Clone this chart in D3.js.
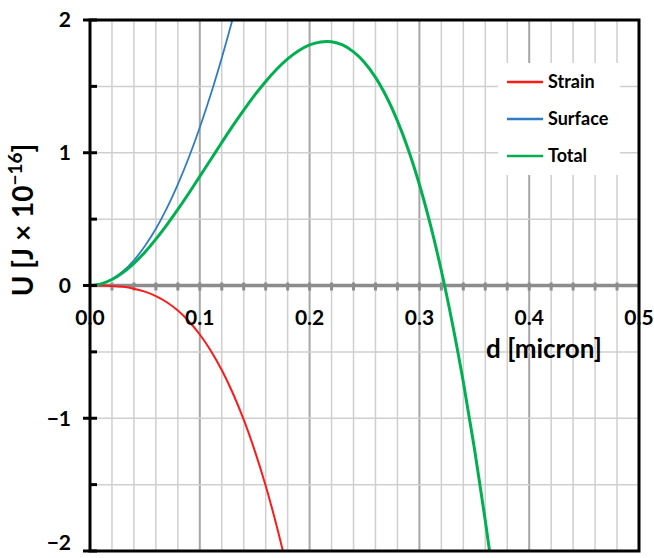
<!DOCTYPE html>
<html>
<head>
<meta charset="utf-8">
<script src="https://cdn.jsdelivr.net/npm/d3@7"></script>
<style>
  body { margin: 0; background: #fff; }
  svg { display: block; font-family: Lato, "Open Sans", sans-serif; font-weight: bold; }
</style>
</head>
<body>
<svg id="chart"></svg>
<script>
// Energy vs. thickness
const dValues = [0, 0.01, 0.02, 0.03, 0.04, 0.05, 0.06, 0.07, 0.08, 0.09,
  0.10, 0.11, 0.12, 0.13, 0.14, 0.15, 0.16, 0.17, 0.18, 0.19,
  0.20, 0.21, 0.22, 0.23, 0.24, 0.25, 0.26, 0.27, 0.28, 0.29,
  0.30, 0.31, 0.32, 0.33, 0.34, 0.35, 0.36, 0.37];

const strainU = [0, -0.0004, -0.003, -0.010, -0.024, -0.046, -0.080, -0.126, -0.189, -0.269,
  -0.369, -0.491, -0.637, -0.810, -1.011, -1.244, -1.509, -1.811, -2.149];

const surfaceU = [0, 0.012, 0.048, 0.107, 0.190, 0.298, 0.428, 0.583, 0.762, 0.964,
  1.190, 1.440, 1.714, 2.011, 2.332];

const totalU = [0, 0.012, 0.045, 0.097, 0.167, 0.251, 0.349, 0.457, 0.573, 0.695,
  0.822, 0.949, 1.077, 1.202, 1.321, 1.434, 1.537, 1.629, 1.707, 1.768,
  1.812, 1.835, 1.836, 1.812, 1.760, 1.680, 1.568, 1.422, 1.240, 1.021,
  0.761, 0.458, 0.111, -0.284, -0.727, -1.222, -1.770, -2.375];

const seriesNames = ['Strain', 'Surface', 'Total'];
const seriesColors = ['#ff1a1a', '#2e7dc4', '#00b050'];
const seriesWidths = [2, 1.8, 3];
const seriesValues = [strainU, surfaceU, totalU];

const xTickLabels = ['0.0', '0.1', '0.2', '0.3', '0.4', '0.5'];
const yTickLabels = ['\u22122', '\u22121', '0', '1', '2'];

const W = 654, H = 558;
const plot = { left: 90, right: 639, top: 20, bottom: 551 };

const svg = d3.select('#chart').attr('width', W).attr('height', H);

const x = d3.scaleLinear().domain([0, 0.5]).range([plot.left, plot.right]);
const y = d3.scaleLinear().domain([-2, 2]).range([plot.bottom, plot.top]);

// Gridlines
const xMinor = d3.range(1, 25).map(i => i * 0.02);
const yGrid = [-1.5, -1, -0.5, 0.5, 1, 1.5];
const isMajorX = d => Math.abs(d * 10 - Math.round(d * 10)) < 1e-6;

const grid = svg.append('g').attr('class', 'grid');
grid.selectAll('.vgrid')
  .data(xMinor)
  .join('line')
  .attr('x1', d => x(d)).attr('x2', d => x(d))
  .attr('y1', plot.top).attr('y2', plot.bottom)
  .attr('stroke', d => isMajorX(d) ? '#a6a6a6' : '#cfcfcf')
  .attr('stroke-width', d => isMajorX(d) ? 2 : 1.5);

grid.selectAll('.hgrid')
  .data(yGrid)
  .join('line')
  .attr('x1', plot.left).attr('x2', plot.right)
  .attr('y1', d => y(d)).attr('y2', d => y(d))
  .attr('stroke', '#cfcfcf')
  .attr('stroke-width', 1.5);

// Legend background blanks out the grid behind it
svg.append('rect')
  .attr('x', 498).attr('y', 63)
  .attr('width', 122).attr('height', 112)
  .attr('fill', '#fff');

// Zero line with ticks
const zeroY = y(0);
svg.append('line')
  .attr('x1', plot.left).attr('x2', plot.right)
  .attr('y1', zeroY).attr('y2', zeroY)
  .attr('stroke', '#8c8c8c')
  .attr('stroke-width', 3.5);

svg.append('g').selectAll('line')
  .data(xMinor)
  .join('line')
  .attr('x1', d => x(d)).attr('x2', d => x(d))
  .attr('y1', zeroY - 3).attr('y2', zeroY + 5)
  .attr('stroke', '#8c8c8c')
  .attr('stroke-width', 3);

// Curves
svg.append('clipPath').attr('id', 'plot-clip')
  .append('rect')
  .attr('x', plot.left).attr('y', plot.top)
  .attr('width', plot.right - plot.left)
  .attr('height', plot.bottom - plot.top);

const line = d3.line()
  .x((d, i) => x(dValues[i]))
  .y(d => y(d))
  .curve(d3.curveCatmullRom.alpha(0.5));

svg.append('g')
  .attr('clip-path', 'url(#plot-clip)')
  .selectAll('path')
  .data(seriesValues)
  .join('path')
  .attr('d', d => line(d))
  .attr('fill', 'none')
  .attr('stroke', (d, i) => seriesColors[i])
  .attr('stroke-width', (d, i) => seriesWidths[i])
  .attr('stroke-linejoin', 'round');

// Frame
svg.append('rect')
  .attr('x', plot.left).attr('y', plot.top)
  .attr('width', plot.right - plot.left)
  .attr('height', plot.bottom - plot.top)
  .attr('fill', 'none')
  .attr('stroke', '#000')
  .attr('stroke-width', 3);

// Y axis ticks: majors cross the axis, minors sit inside
const yMajor = [-2, -1, 0, 1, 2];
const yMinorTicks = [-1.5, -0.5, 0.5, 1.5];
svg.append('g').selectAll('line')
  .data(yMajor)
  .join('line')
  .attr('x1', plot.left - 7).attr('x2', plot.left + 7)
  .attr('y1', d => y(d)).attr('y2', d => y(d))
  .attr('stroke', '#000').attr('stroke-width', 3);
svg.append('g').selectAll('line')
  .data(yMinorTicks)
  .join('line')
  .attr('x1', plot.left).attr('x2', plot.left + 7)
  .attr('y1', d => y(d)).attr('y2', d => y(d))
  .attr('stroke', '#000').attr('stroke-width', 3);

// Tick labels (bottom one nudged up so it stays inside the page)
svg.append('g').selectAll('text')
  .data(yMajor)
  .join('text')
  .attr('x', 71)
  .attr('y', d => Math.min(y(d), 543))
  .attr('dy', '0.35em')
  .attr('text-anchor', 'end')
  .attr('font-size', 21)
  .text((d, i) => yTickLabels[i]);

svg.append('g').selectAll('text')
  .data(xTickLabels)
  .join('text')
  .attr('x', d => x(+d))
  .attr('y', zeroY + 32)
  .attr('dy', '0.35em')
  .attr('text-anchor', 'middle')
  .attr('font-size', 21)
  .text(d => d);

// Axis titles
svg.append('text')
  .attr('x', 544).attr('y', 358)
  .attr('text-anchor', 'middle')
  .attr('font-size', 26)
  .text('d [micron]');

const yTitle = svg.append('text')
  .attr('transform', 'translate(33,220) rotate(-90)')
  .attr('text-anchor', 'middle')
  .attr('font-size', 28);
yTitle.append('tspan').text('U [J \u00d7 10');
yTitle.append('tspan').attr('dy', -11).attr('font-size', 19).text('\u221216');
yTitle.append('tspan').attr('dy', 11).text(']');

// Legend
const legend = svg.append('g').selectAll('g')
  .data(seriesNames)
  .join('g')
  .attr('transform', (d, i) => `translate(507,${82 + i * 37})`);
legend.append('line')
  .attr('x1', 0).attr('x2', 36)
  .attr('stroke', (d, i) => seriesColors[i])
  .attr('stroke-width', 2.5);
legend.append('text')
  .attr('x', 41)
  .attr('dy', '0.35em')
  .attr('font-size', 18)
  .text(d => d);
</script>
</body>
</html>
